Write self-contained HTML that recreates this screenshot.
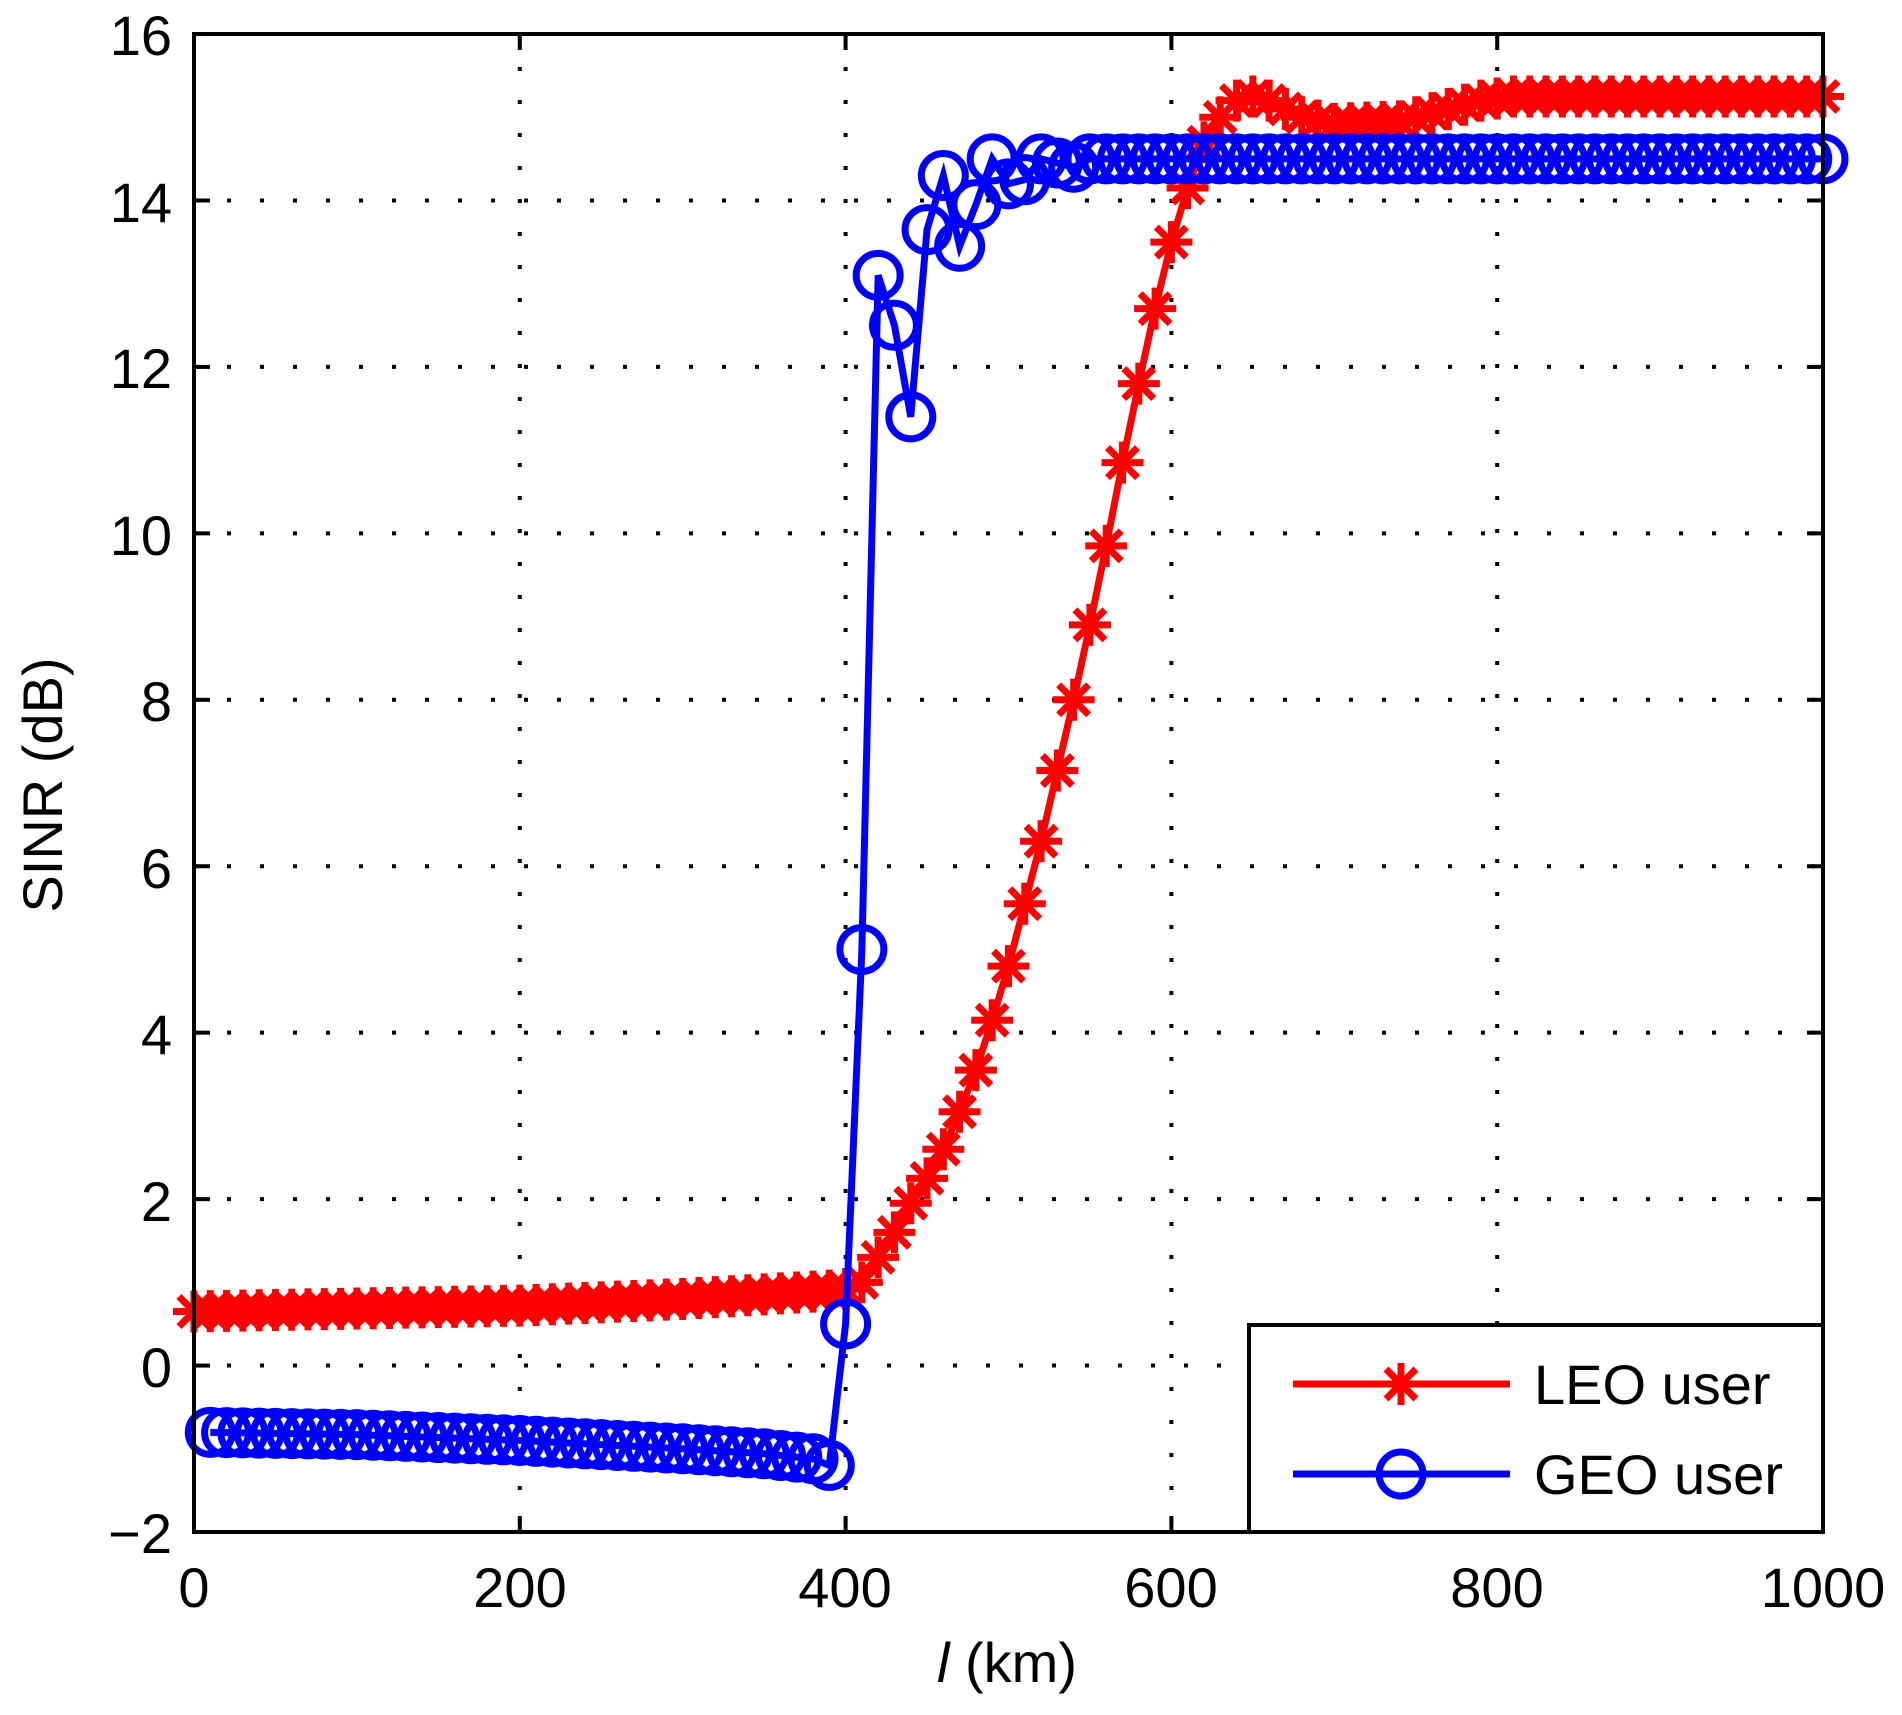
<!DOCTYPE html>
<html><head><meta charset="utf-8"><style>
html,body{margin:0;padding:0;background:#fff;}
svg{display:block;font-family:"Liberation Sans",sans-serif;}
</style></head><body>
<svg id="s" width="1902" height="1715" viewBox="0 0 1902 1715" xmlns="http://www.w3.org/2000/svg">
<rect width="1902" height="1715" fill="#fff"/>
<g id="grid" stroke="#000" stroke-width="4" stroke-dasharray="4,29"></g>
<g id="ticks" stroke="#000" stroke-width="4"></g>
<g font-size="56" fill="#000">
<g text-anchor="end">
<text x="172" y="55">16</text>
<text x="172" y="222">14</text>
<text x="172" y="388">12</text>
<text x="172" y="555">10</text>
<text x="172" y="721">8</text>
<text x="172" y="888">6</text>
<text x="172" y="1054">4</text>
<text x="172" y="1221">2</text>
<text x="172" y="1387">0</text>
<text x="172" y="1553">−2</text>
</g>
<g text-anchor="middle">
<text x="194" y="1607">0</text>
<text x="520" y="1607">200</text>
<text x="845" y="1607">400</text>
<text x="1171" y="1607">600</text>
<text x="1497" y="1607">800</text>
<text x="1823" y="1607">1000</text>
<text x="1007" y="1682"><tspan font-style="italic">l</tspan> (km)</text>
<text transform="translate(62,785) rotate(-90)">SINR (dB)</text>
</g>
</g>
<g id="data"></g>
<rect x="194" y="34" width="1629" height="1498" fill="none" stroke="#000" stroke-width="4"/>
<rect x="1249" y="1325" width="574" height="207" fill="#fff" stroke="#000" stroke-width="4"/>
<line x1="1293" y1="1384" x2="1510" y2="1384" stroke="#f00" stroke-width="7"/>
<line x1="1293" y1="1474" x2="1510" y2="1474" stroke="#00f" stroke-width="7"/>
<g id="leg"></g>
<text x="1534" y="1404" font-size="56">LEO user</text>
<text x="1534" y="1494" font-size="56">GEO user</text>
</svg>
<script>
var X=function(v){return 194+v*1.629;},Y=function(v){return 1532-(v+2)*83.22;};
var g=document.getElementById('grid'),t=document.getElementById('ticks'),h='',k='';
for(var i=1;i<5;i++){var x=X(i*200);h+='<line x1="'+x+'" y1="34" x2="'+x+'" y2="1532"/>';k+='<line x1="'+x+'" y1="34" x2="'+x+'" y2="50"/><line x1="'+x+'" y1="1532" x2="'+x+'" y2="1516"/>';}
for(var v=0;v<=14;v+=2){var y=Y(v);h+='<line x1="194" y1="'+y+'" x2="1823" y2="'+y+'"/>';}
for(var v=-2;v<=16;v+=2){var y=Y(v);k+='<line x1="194" y1="'+y+'" x2="210" y2="'+y+'"/><line x1="1823" y1="'+y+'" x2="1807" y2="'+y+'"/>';}
g.innerHTML=h;t.innerHTML=k;
function interp(pts,x){for(var i=0;i<pts.length-1;i++){if(x>=pts[i][0]&&x<=pts[i+1][0]){var a=pts[i],b=pts[i+1];return a[1]+(b[1]-a[1])*(x-a[0])/(b[0]-a[0]);}}return pts[pts.length-1][1];}
var leoK=[[0,0.65],[200,0.72],[300,0.8],[390,0.9],[400,0.92],[410,1.0],[420,1.3],[430,1.6],[440,1.95],[450,2.25],[460,2.6],[470,3.05],[480,3.55],[490,4.15],[500,4.8],[510,5.55],[520,6.3],[530,7.15],[540,8.0],[550,8.9],[560,9.85],[570,10.85],[580,11.8],[590,12.7],[600,13.5],[610,14.15],[620,14.7],[630,15.0],[640,15.2],[650,15.25],[660,15.2],[670,15.1],[680,15.0],[700,14.92],[740,14.95],[760,15.05],[790,15.2],[810,15.25],[1000,15.25]];
var geoK=[[0,-0.8],[100,-0.83],[200,-0.9],[300,-1.0],[350,-1.06],[380,-1.12],[390,-1.2],[400,0.5],[410,5.0],[420,13.1],[430,12.5],[440,11.4],[450,13.65],[460,14.3],[470,13.45],[480,13.95],[490,14.5],[500,14.2],[510,14.25],[520,14.5],[530,14.45],[540,14.4],[550,14.5],[1000,14.5]];
var d=document.getElementById('data'),s='';
function star(x,y,c){var r=21,q=15;return '<g stroke="'+c+'" stroke-width="7"><line x1="'+(x-r)+'" y1="'+y+'" x2="'+(x+r)+'" y2="'+y+'"/><line x1="'+x+'" y1="'+(y-r)+'" x2="'+x+'" y2="'+(y+r)+'"/><line x1="'+(x-q)+'" y1="'+(y-q)+'" x2="'+(x+q)+'" y2="'+(y+q)+'"/><line x1="'+(x-q)+'" y1="'+(y+q)+'" x2="'+(x+q)+'" y2="'+(y-q)+'"/></g>';}
var lp=[],gp=[],lx=[],gx=[];
for(var x=0;x<=1000;x+=10)lx.push(x);
for(var x=10;x<=1000;x+=10)gx.push(x);
lx.forEach(function(x){lp.push(X(x)+','+Y(interp(leoK,x)));});
gx.forEach(function(x){gp.push(X(x)+','+Y(interp(geoK,x)));});
s+='<polyline points="'+lp.join(' ')+'" fill="none" stroke="#f00" stroke-width="7"/>';
lx.forEach(function(x){s+=star(X(x),Y(interp(leoK,x)),'#f00');});
s+='<polyline points="'+gp.join(' ')+'" fill="none" stroke="#00f" stroke-width="7"/>';
gx.forEach(function(x){s+='<circle cx="'+X(x)+'" cy="'+Y(interp(geoK,x))+'" r="22" fill="none" stroke="#00f" stroke-width="7"/>';});
d.innerHTML=s;
document.getElementById('leg').innerHTML=star(1401,1384,'#f00')+'<circle cx="1401" cy="1474" r="22" fill="none" stroke="#00f" stroke-width="7"/>';
</script>
</body></html>
